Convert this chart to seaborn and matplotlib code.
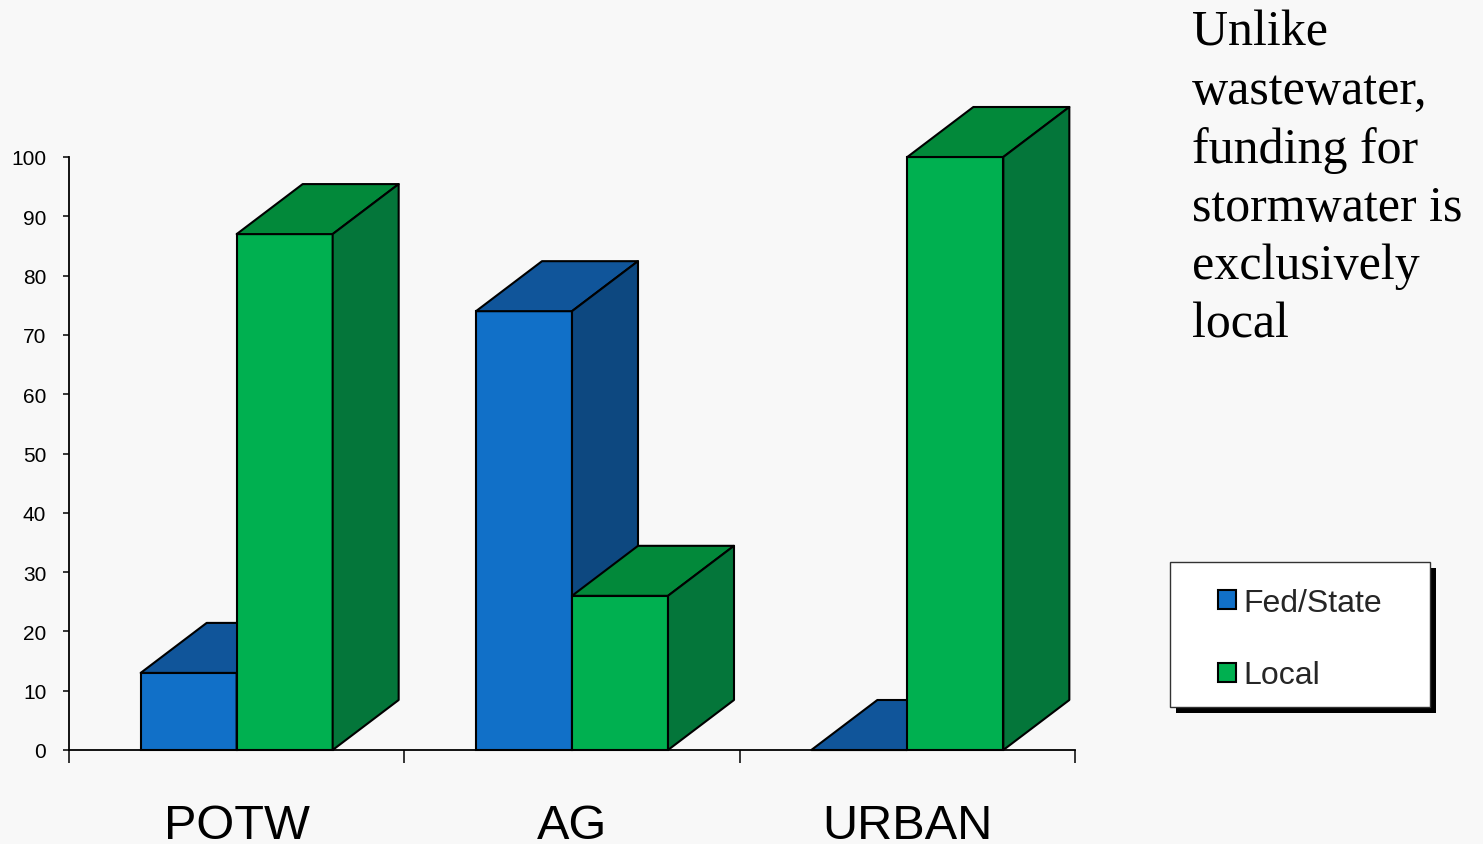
import numpy as np
import pandas as pd
import matplotlib
matplotlib.use('Agg')
import matplotlib.pyplot as plt
import seaborn as sns
from matplotlib.patches import Polygon, Rectangle

# ---- data ----
categories = ['POTW', 'AG', 'URBAN']
series_names = ['Fed/State', 'Local']
fed_state = [13, 74, 0]
local = [87, 26, 100]
y_ticks = list(range(0, 101, 10))
side_note = 'Unlike\nwastewater,\nfunding for\nstormwater is\nexclusively\nlocal'

# ---- styles ----
front_colors = ['#1170C8', '#00B050']
top_colors = ['#10559A', '#02893A']
side_colors = ['#0D4880', '#04763A']

sns.set_style('white')
plt.rcParams['font.family'] = ['Liberation Sans', 'DejaVu Sans']

df = pd.DataFrame({
    'category': categories * 2,
    'value': fed_state + local,
    'source': [series_names[0]] * len(categories) + [series_names[1]] * len(categories),
})

W, H = 1483, 845
BG = '#f8f8f8'
fig = plt.figure(figsize=(W / 100, H / 100), dpi=100, facecolor=BG)
ax = fig.add_axes([69 / W, 1 - 751 / H, (1075 - 69) / W, (751 - 158) / H])
ax.set_facecolor('none')

px_per_x = (1075 - 69) / 3.0
px_per_y = (751 - 158) / 100.0
bar_w = 96 / px_per_x

sns.barplot(data=df, x='category', y='value', hue='source', order=categories,
            hue_order=series_names, palette=front_colors, width=2 * bar_w,
            saturation=1, edgecolor='black', linewidth=1.5, errorbar=None, ax=ax)

ax.set_xlim(-0.5, 2.5)
ax.set_ylim(0, 100)

dx = 66 / px_per_x
dy = 50 / px_per_y

for ci, container in enumerate(ax.containers):
    base_z = 2 + 2 * ci
    for bar in container:
        x0 = bar.get_x()
        w = bar.get_width()
        h = bar.get_height()
        bar.set_zorder(base_z)
        bar.set_clip_on(False)
        top = Polygon([(x0, h), (x0 + dx, h + dy), (x0 + w + dx, h + dy), (x0 + w, h)],
                      closed=True, fc=top_colors[ci], ec='black', lw=1.5,
                      zorder=base_z + 0.5, clip_on=False, joinstyle='round')
        ax.add_patch(top)
        if h > 0:
            side = Polygon([(x0 + w, 0), (x0 + w + dx, dy), (x0 + w + dx, h + dy), (x0 + w, h)],
                           closed=True, fc=side_colors[ci], ec='black', lw=1.5,
                           zorder=base_z + 0.5, clip_on=False, joinstyle='round')
            ax.add_patch(side)

# axes styling
for s in ['top', 'right']:
    ax.spines[s].set_visible(False)
for s in ['left', 'bottom']:
    ax.spines[s].set_color('black')
    ax.spines[s].set_linewidth(1.3)
    ax.spines[s].set_zorder(1)

ax.set_xticks(range(len(categories)))
ax.set_xticklabels(categories)
ax.set_xticks([-0.5, 0.5, 1.5, 2.5], minor=True)
ax.tick_params(axis='x', which='major', bottom=True, length=0, pad=38, labelsize=35,
               colors='black')
ax.tick_params(axis='x', which='minor', bottom=True, length=9.4, width=1.1,
               direction='out', color='black')
ax.set_yticks(y_ticks)
ax.tick_params(axis='y', length=4.3, width=1.1, direction='out', pad=12, labelsize=15,
               colors='black', left=True)
ax.set_xlabel('')
ax.set_ylabel('')

# legend
leg = ax.get_legend()
handles = list(leg.legend_handles)
labels = [t.get_text() for t in leg.get_texts()]
leg.remove()
for hd, c in zip(handles, front_colors):
    hd.set_facecolor(c)
    hd.set_edgecolor('black')
    hd.set_linewidth(1.5)

fig.add_artist(Rectangle((1176 / W, 1 - 714 / H), 260 / W, 145 / H, transform=fig.transFigure,
                         fc='black', ec='black', lw=0, zorder=3.8))
fig.add_artist(Rectangle((1170 / W, 1 - 708 / H), 260 / W, 145 / H, transform=fig.transFigure,
                         fc='white', ec='#333333', lw=1, zorder=3.9))
fig.legend(handles, labels, loc='upper left', bbox_to_anchor=(1218 / W, 1 - 589 / H),
           frameon=False, fontsize=23, handlelength=0.55, handleheight=0.55,
           handletextpad=0.25, labelspacing=1.33, borderpad=0, borderaxespad=0)

fig.text(1192 / W, 1 - 10 / H, side_note, family=['Liberation Serif', 'DejaVu Serif'],
         fontsize=36, va='top', ha='left', linespacing=1.33, color='black')

fig.savefig('out.png', dpi=100, facecolor=BG)
